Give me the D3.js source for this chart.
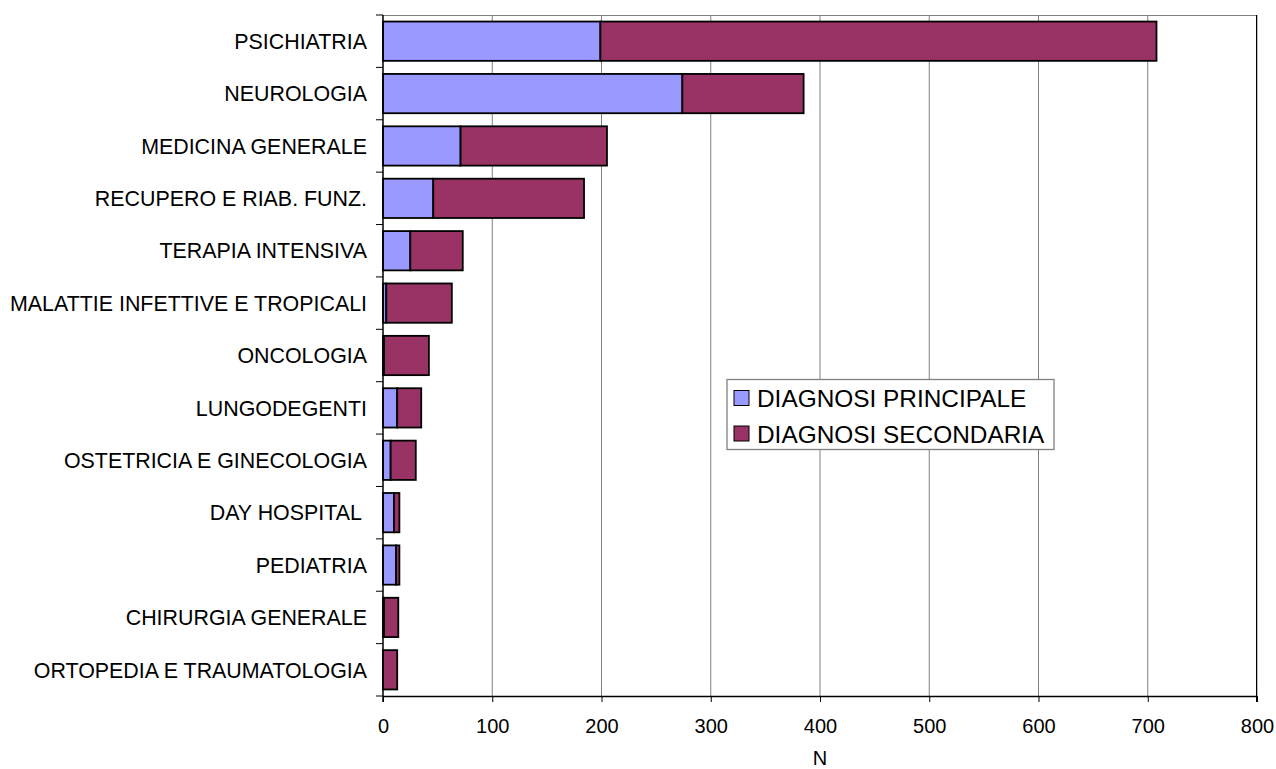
<!DOCTYPE html>
<html>
<head>
  <style>
    body { margin: 0; background: #fff; }
    svg text { font-family: Arial, "Liberation Sans", sans-serif; fill: #000; }
  </style>
</head>
<body>
  <svg id="chart" width="1276" height="769"></svg>

  <script src="https://d3js.org/d3.v7.min.js"></script>
  <script>
    // data
    const categories = [
      'PSICHIATRIA', 'NEUROLOGIA', 'MEDICINA GENERALE', 'RECUPERO E RIAB. FUNZ.',
      'TERAPIA INTENSIVA', 'MALATTIE INFETTIVE E TROPICALI', 'ONCOLOGIA', 'LUNGODEGENTI',
      'OSTETRICIA E GINECOLOGIA', 'DAY HOSPITAL ', 'PEDIATRIA', 'CHIRURGIA GENERALE',
      'ORTOPEDIA E TRAUMATOLOGIA'
    ];
    const principale = [199, 274, 71, 46, 25, 3, 1, 13, 7, 10, 12, 1, 0];
    const secondaria = [509, 111, 134, 138, 48, 60, 41, 22, 23, 5, 3, 13, 13];
    const seriesNames = ['DIAGNOSI PRINCIPALE', 'DIAGNOSI SECONDARIA'];
    const seriesColors = ['#9999ff', '#993366'];
    const xTicks = [0, 100, 200, 300, 400, 500, 600, 700, 800];

    const margin = { top: 15, right: 19, bottom: 73, left: 383 };
    const width = 1276 - margin.left - margin.right;
    const height = 769 - margin.top - margin.bottom;

    const svg = d3.select('#chart');
    const g = svg.append('g').attr('transform', `translate(${margin.left},${margin.top})`);

    const x = d3.scaleLinear().domain([0, 800]).range([0, width]);
    const y = d3.scaleBand().domain(categories).range([0, height])
      .paddingInner(0.25).paddingOuter(0.125);

    // grid lines
    g.append('g')
      .selectAll('line')
      .data(xTicks.slice(1))
      .enter()
      .append('line')
      .attr('x1', d => x(d)).attr('x2', d => x(d))
      .attr('y1', 0).attr('y2', height)
      .attr('stroke', '#808080')
      .attr('stroke-width', 1);

    // frame top
    g.append('line').attr('x1', 0).attr('x2', width).attr('y1', 0.5).attr('y2', 0.5)
      .attr('stroke', '#808080');

    // stacked bars
    const rows = categories.map((c, i) => ({ cat: c, vals: [principale[i], secondaria[i]] }));
    const stack = d3.stack().keys([0, 1]).value((d, k) => d.vals[k]);
    const layers = stack(rows);

    g.append('g')
      .selectAll('g')
      .data(layers)
      .enter()
      .append('g')
      .attr('fill', (d, i) => seriesColors[i])
      .selectAll('rect')
      .data(d => d)
      .enter()
      .filter(d => d[1] - d[0] > 0)
      .append('rect')
      .attr('x', d => x(d[0]))
      .attr('y', d => y(d.data.cat))
      .attr('width', d => x(d[1]) - x(d[0]))
      .attr('height', y.bandwidth())
      .attr('stroke', '#000')
      .attr('stroke-width', 1.8);

    // x axis
    const xAxis = g.append('g')
      .attr('transform', `translate(0,${height})`)
      .call(d3.axisBottom(x).tickValues(xTicks).tickSize(6).tickSizeOuter(0).tickPadding(17));
    xAxis.select('.domain').attr('stroke', '#000').attr('stroke-width', 1.5);
    xAxis.selectAll('.tick line').attr('stroke', '#000');
    xAxis.selectAll('text').style('font-size', '20px').attr('fill', '#000');

    // y axis
    const yTickPos = d3.range(categories.length + 1).map(i => i * y.step());
    const yAxis = g.append('g');
    yAxis.append('line')
      .attr('x1', 0).attr('x2', 0).attr('y1', 0).attr('y2', height + 6)
      .attr('stroke', '#000').attr('stroke-width', 1.5);
    yAxis.selectAll('line.tk')
      .data(yTickPos)
      .enter()
      .append('line')
      .attr('class', 'tk')
      .attr('x1', -7).attr('x2', 0)
      .attr('y1', d => d).attr('y2', d => d)
      .attr('stroke', '#000');
    yAxis.selectAll('text')
      .data(categories)
      .enter()
      .append('text')
      .attr('x', -16)
      .attr('y', d => y(d) + y.bandwidth() / 2)
      .attr('dy', '0.36em')
      .attr('text-anchor', 'end')
      .style('font-size', '21.4px')
      .style('white-space', 'pre')
      .text(d => d);

    // right frame line
    g.append('line').attr('x1', width - 0.5).attr('x2', width - 0.5).attr('y1', 0).attr('y2', height + 6)
      .attr('stroke', '#000');

    // x title
    svg.append('text')
      .attr('x', margin.left + width / 2)
      .attr('y', 765)
      .attr('text-anchor', 'middle')
      .style('font-size', '20px')
      .text('N');

    // legend
    const legend = svg.append('g').attr('transform', 'translate(727,379.5)');
    legend.append('rect')
      .attr('width', 327).attr('height', 70)
      .attr('fill', '#fff').attr('stroke', '#808080').attr('stroke-width', 1.3);
    const items = legend.selectAll('g.item')
      .data(seriesNames)
      .enter()
      .append('g')
      .attr('class', 'item')
      .attr('transform', (d, i) => `translate(7,${11 + i * 35.5})`);
    items.append('rect')
      .attr('width', 15).attr('height', 15)
      .attr('fill', (d, i) => seriesColors[i])
      .attr('stroke', '#000').attr('stroke-width', 1);
    items.append('text')
      .attr('x', 23)
      .attr('y', 16.5)
      .style('font-size', '24.4px')
      .text(d => d);
  </script>
</body>
</html>
